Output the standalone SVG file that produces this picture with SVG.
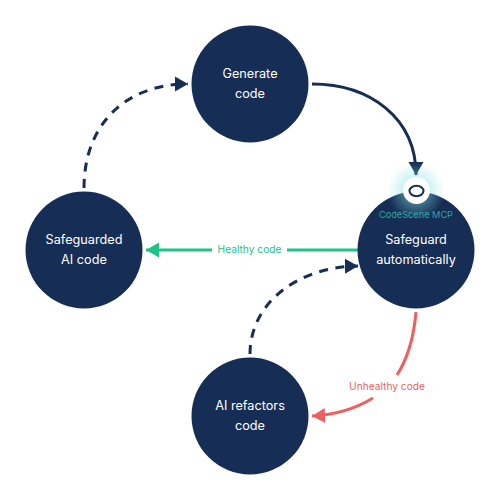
<svg xmlns="http://www.w3.org/2000/svg" width="500" height="500" viewBox="0 0 500 500">
<style>
.n{fill:#162d55}
.t{font-family:Inter,"Noto Sans",sans-serif;font-size:12.7px;font-weight:400;fill:#fff;text-anchor:middle}
.c{fill:none;stroke-width:3}
.d{stroke:#162d55;stroke-dasharray:9 7.500}
.l{font-family:Inter,"Noto Sans",sans-serif;font-size:10.200px;font-weight:400;text-anchor:middle}
.m{font-family:Inter,"Noto Sans",sans-serif;font-size:9.200px;font-weight:400;text-anchor:middle;fill:#2aa9ad}
</style>
<defs>
<radialGradient id="g"><stop offset="0.45" stop-color="#7fe0e0" stop-opacity="0.4"/><stop offset="1" stop-color="#7fe0e0" stop-opacity="0"/></radialGradient>
<marker id="an" markerUnits="userSpaceOnUse" markerWidth="16" markerHeight="18" refX="13" refY="9" orient="auto"><path d="M0 1.500L13 9L0 16.500Z" fill="#162d55"/></marker>
<marker id="ag" markerUnits="userSpaceOnUse" markerWidth="16" markerHeight="18" refX="13" refY="9" orient="auto"><path d="M0 1.500L13 9L0 16.500Z" fill="#1cc486"/></marker>
<marker id="ar" markerUnits="userSpaceOnUse" markerWidth="16" markerHeight="18" refX="13" refY="9" orient="auto"><path d="M0 1.500L13 9L0 16.500Z" fill="#ee5f5f"/></marker>
</defs>
<g id="connectors">
<path class="c d" d="M84 188C84 125 125 84 188 84" marker-end="url(#an)"/>
<path class="c" stroke="#162d55" d="M312 84C370 84 416 118 416 175" marker-end="url(#an)"/>
<path class="c d" d="M250 354C250 305 295 267 358 266" marker-end="url(#an)"/>
<path class="c" stroke="#1cc486" d="M358 250H287"/>
<path class="c" stroke="#1cc486" d="M212 250H146" marker-end="url(#ag)"/>
<path class="c" stroke="#ee5f5f" d="M416 312C414 335 408 358 397 375"/>
<path class="c" stroke="#ee5f5f" d="M373 398C355 409 335 415 312 416" marker-end="url(#ar)"/>
</g>
<text class="l" x="249.500" y="253" fill="#1cc486">Healthy code</text>
<text class="l" x="387" y="390" fill="#ee5f5f">Unhealthy code</text>
<g id="generate"><circle class="n" cx="250" cy="84" r="58.500"/><text class="t" x="250" y="78">Generate</text><text class="t" x="250" y="98">code</text></g>
<g id="safeguarded"><circle class="n" cx="84" cy="250" r="58.500"/><text class="t" x="84" y="244">Safeguarded</text><text class="t" x="84" y="264">AI code</text></g>
<g id="refactors"><circle class="n" cx="250" cy="416" r="58.500"/><text class="t" x="250" y="410">AI refactors</text><text class="t" x="250" y="430">code</text></g>
<g id="safeguard"><circle class="n" cx="416" cy="250" r="58.500"/><circle cx="416" cy="191" r="29" fill="url(#g)"/><circle cx="416.500" cy="190.500" r="13.500" fill="#fff"/><ellipse cx="416.500" cy="191" rx="7" ry="5.200" fill="none" stroke="#162d55" stroke-width="2"/><text class="m" x="416" y="218">CodeScene MCP</text><text class="t" x="416" y="244">Safeguard</text><text class="t" x="416" y="264">automatically</text></g>
</svg>
